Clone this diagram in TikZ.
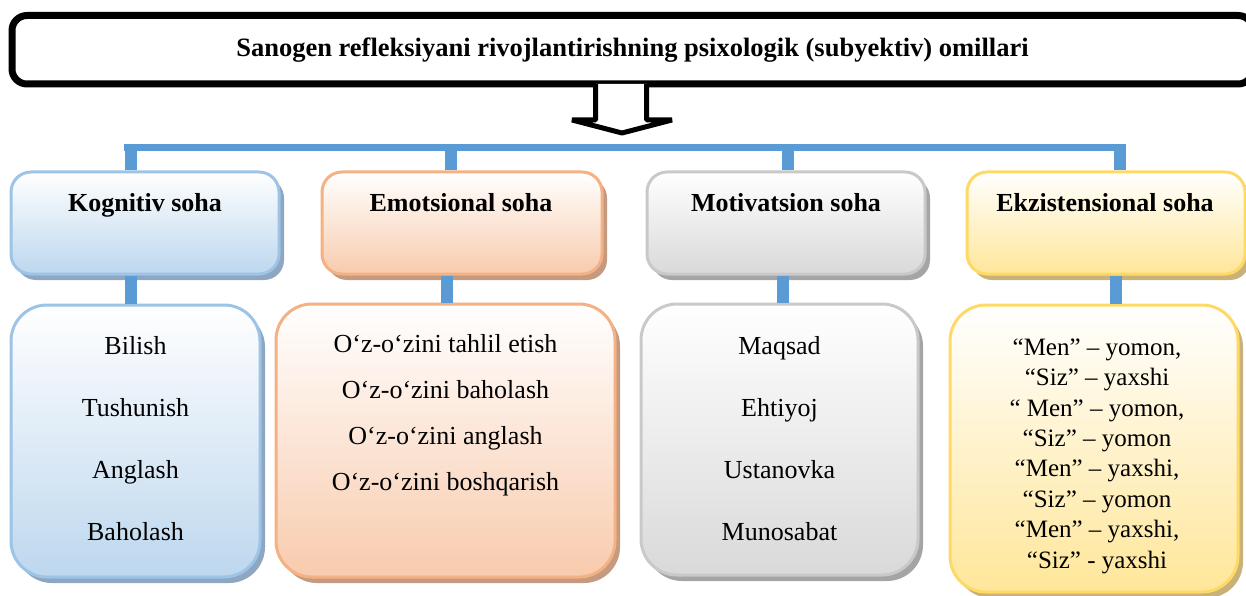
\documentclass[tikz,border=0pt]{standalone}
\usepackage{fontspec}
\setmainfont{Liberation Serif}
\definecolor{bus}{HTML}{5B9BD5}
\definecolor{kB}{HTML}{9DC3E6}\definecolor{kF}{HTML}{BDD7EE}\definecolor{kS}{HTML}{8EA6C0}
\definecolor{eB}{HTML}{F4B183}\definecolor{eF}{HTML}{F8CBAD}\definecolor{eS}{HTML}{C49A80}
\definecolor{mB}{HTML}{C9C9C9}\definecolor{mF}{HTML}{D9D9D9}\definecolor{mS}{HTML}{A5A5A5}
\definecolor{xB}{HTML}{FFD966}\definecolor{xF}{HTML}{FFE699}\definecolor{xS}{HTML}{C9B27A}
\tikzset{
  tone/.style={draw=#1B, line width=3pt, top color=white, bottom color=#1F,
    preaction={fill=#1S, transform canvas={shift={(5pt,-6pt)}}}},
  headbox/.style={tone=#1, rounded corners=20pt, inner sep=0pt},
  listbox/.style={tone=#1, rounded corners=36pt, inner sep=0pt},
  hd/.style={font=\fontsize{26}{30}\selectfont\bfseries, inner sep=0pt, anchor=base},
  lst/.style={align=center, inner sep=0pt, anchor=base},
  titlebox/.style={draw=black, line width=7pt, rounded corners=15pt, fill=white,
    font=\fontsize{26.5}{30}\selectfont\bfseries},
  blockarrow/.style={draw=black, line width=5pt, fill=white, line join=bevel},
  busline/.style={draw=bus, line width=7pt},
  busdrop/.style={draw=bus, line width=12pt},
}
\begin{document}
\begin{tikzpicture}[x=1pt,y=-1pt]
\useasboundingbox (0,0) rectangle (1246,596);
\begin{scope}
\clip (0,0) rectangle (1246,596);
% title
\node[titlebox, minimum width=1241pt, minimum height=68.5pt] (title) at (632.5,49.75)
  {Sanogen refleksiyani rivojlantirishning psixologik (subyektiv) omillari};
% block arrow
\coordinate (a1) at (595.5,84);
\coordinate (a2) at (595.5,120);
\coordinate (a3) at (572,120);
\coordinate (a4) at (622,133);
\coordinate (a5) at (672,120);
\coordinate (a6) at (646.5,120);
\coordinate (a7) at (646.5,84);
\draw[blockarrow] (a1) -- (a2) -- (a3) -- (a4) -- (a5) -- (a6) -- (a7);
% bus
\coordinate (busL) at (124,147.5);
\coordinate (busR) at (1126,147.5);
\draw[busline] (busL) -- (busR);
\coordinate (kd) at (131,144);
\coordinate (ed) at (451,144);
\coordinate (md) at (788,144);
\coordinate (xd) at (1120,144);
% header boxes
\node[headbox=k, minimum width=268pt, minimum height=102pt] (k1) at (145,223) {};
\node[headbox=e, minimum width=280pt, minimum height=102pt] (e1) at (462,223) {};
\node[headbox=m, minimum width=278pt, minimum height=102pt] (m1) at (786,223) {};
\node[headbox=x, minimum width=278pt, minimum height=102pt] (x1) at (1106,223) {};
\draw[busdrop] (kd) -- (kd |- k1.north);
\draw[busdrop] (ed) -- (ed |- e1.north);
\draw[busdrop] (md) -- (md |- m1.north);
\draw[busdrop] (xd) -- (xd |- x1.north);
\node[hd] (k1t) at (145,211) {Kognitiv soha};
\node[hd] (e1t) at (461,211) {Emotsional soha};
\node[hd] (m1t) at (786,211) {Motivatsion soha};
\node[hd] (x1t) at (1105,211) {Ekzistensional soha};
% list boxes
\node[listbox=k, minimum width=249pt, minimum height=272pt] (k2) at (135.5,441) {};
\node[listbox=e, minimum width=339pt, minimum height=273pt] (e2) at (445.5,440.5) {};
\node[listbox=m, minimum width=277pt, minimum height=271pt] (m2) at (779.5,439.5) {};
\node[listbox=x, minimum width=288pt, minimum height=287pt] (x2) at (1094,448.5) {};
\coordinate (kc) at (131,290);
\coordinate (ec) at (447,290);
\coordinate (mc) at (783,290);
\coordinate (xc) at (1116,290);
\draw[busdrop] (kc |- k1.south) -- (kc |- k2.north);
\draw[busdrop] (ec |- e1.south) -- (ec |- e2.north);
\draw[busdrop] (mc |- m1.south) -- (mc |- m2.north);
\draw[busdrop] (xc |- x1.south) -- (xc |- x2.north);
% multi-line texts: base anchor = baseline of the last line
\node[lst, font=\fontsize{26}{62}\selectfont] (k2t) at (135.5,540)
  {Bilish\\Tushunish\\Anglash\\Baholash};
\node[lst, font=\fontsize{26}{45.7}\selectfont] (e2t) at (445.5,490)
  {O‘z-o‘zini tahlil etish\\O‘z-o‘zini baholash\\O‘z-o‘zini anglash\\O‘z-o‘zini boshqarish};
\node[lst, font=\fontsize{26}{62}\selectfont] (m2t) at (779.5,540)
  {Maqsad\\Ehtiyoj\\Ustanovka\\Munosabat};
\node[lst, font=\fontsize{25}{30.4}\selectfont] (x2t) at (1097,568)
  {“Men” – yomon,\\“Siz” – yaxshi\\“ Men” – yomon,\\“Siz” – yomon\\“Men” – yaxshi,\\“Siz” – yomon\\“Men” – yaxshi,\\“Siz” - yaxshi};
\end{scope}
\end{tikzpicture}
\end{document}
